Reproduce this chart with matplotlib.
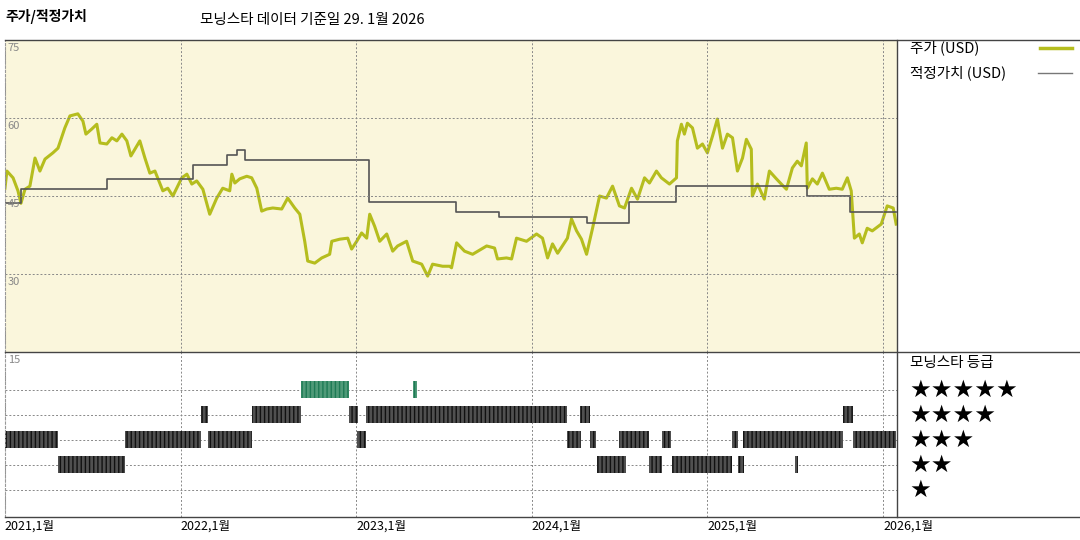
import matplotlib.pyplot as plt
from matplotlib.lines import Line2D

plt.rcParams['font.family'] = ['Noto Sans CJK KR', 'DejaVu Sans']

# price (USD), x in fractional years since 2021-01
price_t = [0.0, 0.011, 0.046, 0.074, 0.091, 0.114, 0.142, 0.171, 0.199, 0.228, 0.273, 0.302,
           0.341, 0.370, 0.415, 0.444, 0.461, 0.495, 0.523, 0.541, 0.580, 0.609, 0.637, 0.666,
           0.694, 0.717, 0.740, 0.768, 0.797, 0.825, 0.854, 0.899, 0.927, 0.956, 1.007, 1.036,
           1.064, 1.092, 1.127, 1.166, 1.206, 1.240, 1.280, 1.292, 1.309, 1.337, 1.377, 1.405,
           1.434, 1.462, 1.491, 1.525, 1.576, 1.610, 1.650, 1.679, 1.707, 1.724, 1.764, 1.804,
           1.849, 1.861, 1.906, 1.952, 1.974, 2.003, 2.031, 2.060, 2.077, 2.105, 2.134, 2.174,
           2.208, 2.236, 2.287, 2.322, 2.373, 2.407, 2.435, 2.492, 2.532, 2.543, 2.572, 2.617,
           2.663, 2.743, 2.788, 2.805, 2.856, 2.885, 2.913, 2.970, 3.027, 3.061, 3.090, 3.118,
           3.147, 3.186, 3.203, 3.226, 3.255, 3.283, 3.312, 3.346, 3.386, 3.425, 3.460, 3.499,
           3.528, 3.568, 3.602, 3.642, 3.670, 3.710, 3.738, 3.784, 3.824, 3.829, 3.852, 3.869,
           3.886, 3.915, 3.943, 3.972, 4.000, 4.029, 4.057, 4.086, 4.114, 4.143, 4.171, 4.200,
           4.222, 4.250, 4.256, 4.285, 4.324, 4.353, 4.393, 4.421, 4.450, 4.484, 4.512, 4.535,
           4.563, 4.569, 4.598, 4.626, 4.655, 4.694, 4.734, 4.768, 4.797, 4.819, 4.837, 4.865,
           4.882, 4.910, 4.939, 4.990, 5.024, 5.058, 5.075]
price_v = [46.5, 49.8, 48.5, 46.0, 43.6, 46.3, 46.9, 52.3, 49.8, 52.1, 53.3, 54.2,
           58.1, 60.4, 60.8, 59.4, 56.9, 57.9, 58.8, 55.2, 55.0, 56.2, 55.6, 56.9,
           55.6, 52.7, 54.0, 55.6, 52.3, 49.4, 49.8, 46.0, 46.5, 45.0, 48.5, 49.2,
           47.3, 47.9, 46.3, 41.5, 44.6, 46.5, 46.0, 49.2, 47.5, 48.3, 48.8, 48.5,
           46.5, 42.1, 42.5, 42.7, 42.5, 44.6, 42.7, 41.5, 36.3, 32.5, 32.1, 33.1,
           33.8, 36.3, 36.7, 36.9, 34.8, 36.3, 37.9, 36.9, 41.5, 39.2, 36.3, 37.7,
           34.4, 35.4, 36.3, 32.5, 31.9, 29.6, 31.9, 31.5, 31.5, 31.2, 36.0, 34.4,
           33.8, 35.4, 35.0, 32.9, 33.1, 32.9, 36.9, 36.3, 37.7, 36.9, 33.1, 35.8,
           34.0, 36.0, 36.9, 40.6, 38.3, 36.7, 33.8, 38.8, 45.0, 44.6, 46.9, 43.1,
           42.7, 46.5, 44.4, 48.5, 47.5, 49.8, 48.5, 47.3, 48.5, 55.6, 58.8, 56.9,
           59.0, 58.1, 54.2, 55.0, 53.3, 56.5, 59.8, 54.2, 56.9, 56.2, 49.8, 52.3,
           55.9, 54.0, 45.0, 47.3, 44.4, 49.8, 48.3, 47.3, 46.3, 50.4, 51.7, 50.8,
           55.2, 46.5, 48.3, 47.3, 49.4, 46.3, 46.5, 46.3, 48.5, 46.0, 36.9, 37.7,
           36.0, 38.8, 38.3, 39.6, 43.1, 42.7, 39.6]

# fair value steps
fair_t = [0.0, 0.091, 0.580, 1.070, 1.263, 1.320, 1.366, 2.071, 2.566, 2.811, 3.312, 3.556, 3.824, 4.569, 4.814, 5.075]
fair_v = [43.6, 46.3, 48.3, 51.0, 52.9, 53.8, 51.9, 43.8, 41.9, 41.0, 39.8, 43.8, 46.9, 45.0, 41.9, 41.9]

# star rating periods: (start, end)
rating_5 = [(1.684, 1.957), (2.322, 2.344)]
rating_4 = [(1.115, 1.155), (1.405, 1.684), (1.957, 2.009), (2.054, 3.198), (3.277, 3.334), (4.774, 4.831)]
rating_3 = [(0.0, 0.302), (0.683, 1.115), (1.155, 1.405), (2.003, 2.054), (3.198, 3.283), (3.329, 3.368),
            (3.499, 3.670), (3.744, 3.795), (4.142, 4.176), (4.205, 4.774), (4.831, 5.075)]
rating_2 = [(0.302, 0.683), (3.374, 3.539), (3.670, 3.744), (3.801, 4.142), (4.176, 4.211), (4.501, 4.518)]

years = [2021, 2022, 2023, 2024, 2025, 2026]
year_labels = ['2021,1월', '2022,1월', '2023,1월', '2024,1월', '2025,1월', '2026,1월']

fig = plt.figure(figsize=(10.8, 5.4), dpi=100)
ax = fig.add_axes([0.0046, 0.348, 0.826, 0.578])
ax2 = fig.add_axes([0.0046, 0.0426, 0.826, 0.3056])
xmax = 2026.08
grid_kw = dict(color='#888888', linestyle=(0, (2, 2)), linewidth=0.7)

ax.set_facecolor('#faf6dc')
ax.plot([2021 + t for t in price_t], price_v, color='#b5bd1e', linewidth=2.2)
ax.step([2021 + t for t in fair_t], fair_v, where='post', color='#555555', linewidth=1.2)
ax.set_xlim(2021, xmax)
ax.set_ylim(15, 75)
for y in [30, 45, 60]:
    ax.axhline(y, **grid_kw)
for yr in years:
    ax.axvline(yr, **grid_kw)
for y in [75, 60, 45, 30]:
    ax.text(2021.015, y - 0.6, str(y), fontsize=8, color='#888888', va='top', ha='left')
ax.set_xticks([])
ax.set_yticks([])

for segs, row, fc, ec in [(rating_5, 5, '#4f9a78', '#1e7a55'), (rating_4, 4, '#505050', '#111111'),
                          (rating_3, 3, '#505050', '#111111'), (rating_2, 2, '#505050', '#111111')]:
    ax2.broken_barh([(2021 + a, b - a) for a, b in segs], (row - 0.34, 0.68),
                    facecolor=fc, edgecolor=ec, hatch='||||', linewidth=0)
ax2.set_xlim(2021, xmax)
ax2.set_ylim(-0.08, 6.52)
for r in [1, 2, 3, 4, 5]:
    ax2.axhline(r, zorder=0, **grid_kw)
for yr in years:
    ax2.axvline(yr, zorder=0, **grid_kw)
ax2.text(2021.015, 6.4, '15', fontsize=8, color='#888888', va='top', ha='left')
ax2.set_yticks([])
ax2.set_xticks(years)
ax2.set_xticklabels(year_labels, fontsize=9)
ax2.tick_params(length=0, pad=2)
for lbl in ax2.get_xticklabels():
    lbl.set_ha('left')

for a in (ax, ax2):
    for s in a.spines.values():
        s.set_visible(False)
    a.spines['left'].set_visible(True)
    a.spines['left'].set_color('#999999')
    a.spines['left'].set_linestyle((0, (2, 2)))

# frame lines
for yf in [1 - 40 / 540, 1 - 352 / 540, 1 - 517 / 540]:
    fig.add_artist(Line2D([0.0046, 1], [yf, yf], color='#444444', linewidth=1, transform=fig.transFigure))
fig.add_artist(Line2D([897 / 1080, 897 / 1080], [1 - 517 / 540, 1 - 40 / 540], color='#444444',
                      linewidth=1, transform=fig.transFigure))

# legend
fig.text(910 / 1080, 1 - 48 / 540, '주가 (USD)', fontsize=10.5, va='center')
fig.add_artist(Line2D([1040 / 1080, 1072 / 1080], [1 - 48 / 540] * 2, color='#b5bd1e', linewidth=2.5, transform=fig.transFigure))
fig.text(910 / 1080, 1 - 73 / 540, '적정가치 (USD)', fontsize=10.5, va='center')
fig.add_artist(Line2D([1038 / 1080, 1072 / 1080], [1 - 73 / 540] * 2, color='#777777', linewidth=1, transform=fig.transFigure))
fig.text(910 / 1080, 1 - 363 / 540, '모닝스타 등급', fontsize=10.5, va='center')
for i, n in enumerate([5, 4, 3, 2, 1]):
    fig.text(909 / 1080, 1 - (390 + 25 * i) / 540, '★' * n, fontsize=17.5, va='center',
             family=['DejaVu Sans'])

fig.text(5 / 1080, 1 - 16 / 540, '주가/적정가치', fontsize=10, fontweight='bold', va='center')
fig.text(200 / 1080, 1 - 20 / 540, '모닝스타 데이터 기준일 29. 1월 2026', fontsize=10.5, va='center')

fig.savefig('out.png')
